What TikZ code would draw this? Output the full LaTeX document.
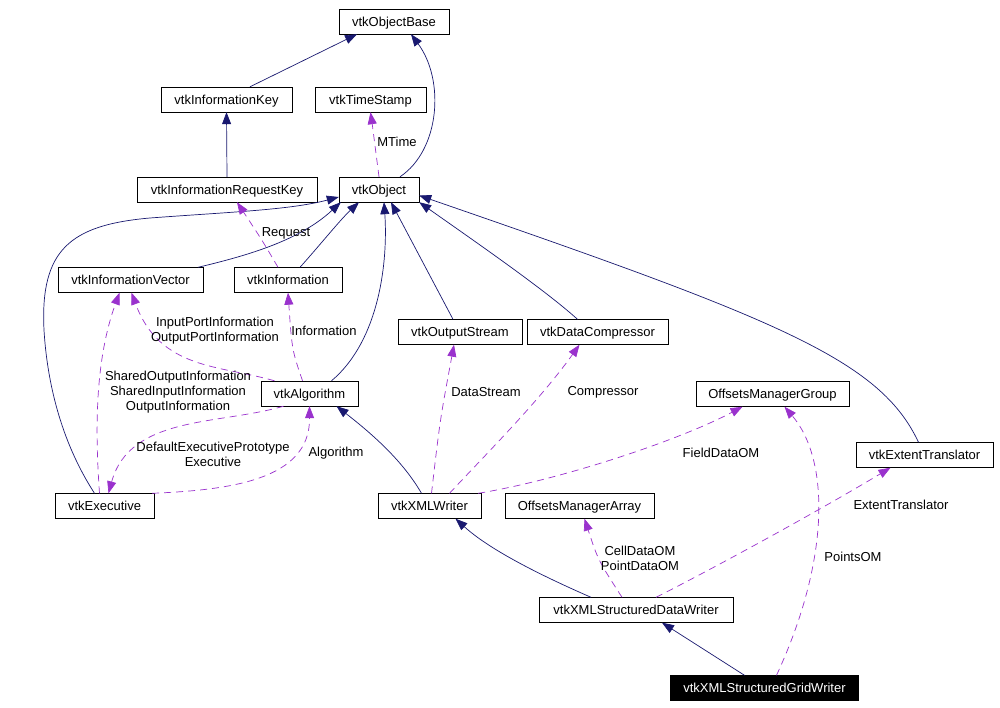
\documentclass[tikz,border=0pt]{standalone}
\usepackage{fontspec}
\setmainfont{Liberation Sans}
\usetikzlibrary{arrows.meta}
\definecolor{inhcol}{RGB}{25,25,112}
\definecolor{usecol}{RGB}{154,50,205}

\begin{document}
\begin{tikzpicture}[x=1pt,y=-1pt,
		cls/.style={draw,rectangle,minimum height=25,inner sep=1pt,text height=9.5pt,text depth=0pt,font=\fontsize{13}{15}\selectfont},
		inh/.style={draw=inhcol,line width=0.7pt,-{Triangle[length=12pt,width=9pt]}},
		use/.style={draw=usecol,line width=0.7pt,dash pattern=on 7pt off 5pt,-{Triangle[length=12pt,width=9pt]}},
		lbl/.style={align=center,inner sep=0pt,font=\fontsize{13}{15}\selectfont}]
	\useasboundingbox[fill=white] (0,0) rectangle (1000,708);
	% classes
	\node[cls,minimum width=110] (base) at (394,21.5) {vtkObjectBase};
	\node[cls,minimum width=131] (key) at (226.5,99.5) {vtkInformationKey};
	\node[cls,minimum width=111] (stamp) at (370.5,99.5) {vtkTimeStamp};
	\node[cls,minimum width=180] (reqkey) at (227,189.5) {vtkInformationRequestKey};
	\node[cls,minimum width=80] (obj) at (379,189.5) {vtkObject};
	\node[cls,minimum width=145] (infovec) at (130.5,280) {vtkInformationVector};
	\node[cls,minimum width=108] (info) at (288,280) {vtkInformation};
	\node[cls,minimum width=124] (ostream) at (460,332) {vtkOutputStream};
	\node[cls,minimum width=141] (compr) at (597.5,332) {vtkDataCompressor};
	\node[cls,minimum width=153] (omgroup) at (772.5,394) {OffsetsManagerGroup};
	\node[cls,minimum width=97] (alg) at (309.5,393.5) {vtkAlgorithm};
	\node[cls,minimum width=137] (extent) at (924.5,455) {vtkExtentTranslator};
	\node[cls,minimum width=99] (exec) at (104.5,506) {vtkExecutive};
	\node[cls,minimum width=103] (xmlw) at (429.5,506) {vtkXMLWriter};
	\node[cls,minimum width=149] (omarray) at (579.5,506) {OffsetsManagerArray};
	\node[cls,minimum width=194] (sdw) at (636,610) {vtkXMLStructuredDataWriter};
	\node[cls,minimum width=188,fill=black,text=white] (sgw) at (764.5,688) {vtkXMLStructuredGridWriter};
	% inheritance
	\foreach \a/\sa/\b/\sb in {key/23.5/base/-37, reqkey/0/key/0, ostream/-7/obj/12, sgw/-20/sdw/26}
	\draw[inh] ([xshift=\sa]\a.north) -- ([xshift=\sb]\b.south);
	\draw[inh] ([xshift=21]obj.north) .. controls (440,150) and (445,80) .. ([xshift=17]base.south);
	\draw[inh] ([xshift=-10]exec.north) .. controls (60,440) and (47,380) .. (44,330)
		.. controls (40,250) and (70,225) .. (150,218) .. controls (230,212) and (290,210) .. ([yshift=-7.5]obj.west);
	\draw[inh] ([xshift=67.5]infovec.north) .. controls (250,255) and (300,240) .. ([xshift=2]obj.south west);
	\draw[inh] ([xshift=12]info.north) .. controls (320,245) and (340,220) .. ([xshift=-20]obj.south);
	\draw[inh] ([xshift=22]alg.north) .. controls (380,340) and (388,260) .. ([xshift=5]obj.south);
	\draw[inh] ([xshift=-20]compr.north) .. controls (545,290) and (480,245) .. (obj.south east);
	\draw[inh] ([xshift=-6]extent.north) .. controls (880,360) and (780,320) .. ([yshift=-6]obj.east);
	\draw[inh] ([xshift=-8]xmlw.north) .. controls (405,465) and (380,440) .. ([xshift=27]alg.south);
	\draw[inh] ([xshift=-45]sdw.north) .. controls (540,575) and (490,550) .. ([xshift=26]xmlw.south);
	% usage
	\draw[use] (obj.north) .. controls (376,150) .. (stamp.south) node[lbl] at (397,142) {MTime};
	\draw[use] ([xshift=-10]info.north) .. controls (262,240) .. ([xshift=10]reqkey.south) node[lbl] at (286,233) {Request};
	\draw[use] ([xshift=-35]alg.north) .. controls (220,365) and (160,370) .. ([xshift=1]infovec.south)
		node[lbl] at (215,331) {InputPortInformation\\OutputPortInformation};
	\draw[use] ([xshift=-5]exec.north) .. controls (95,430) and (95,360) .. ([xshift=-11]infovec.south)
		node[lbl] at (178,392) {SharedOutputInformation\\SharedInputInformation\\OutputInformation};
	\draw[use] ([xshift=-7]alg.north) .. controls (292,350) .. (info.south) node[lbl] at (324,331) {Information};
	\draw[use] ([xshift=-26]alg.south) .. controls (220,425) and (130,415) .. ([xshift=4]exec.north)
		node[lbl] at (213,454) {DefaultExecutivePrototype\\Executive};
	\draw[use] ([xshift=-2]exec.north east) .. controls (230,490) and (310,480) .. (alg.south) node[lbl] at (336,453) {Algorithm};
	\draw[use] ([xshift=2]xmlw.north) .. controls (440,420) .. ([xshift=-6]ostream.south) node[lbl] at (486,392) {DataStream};
	\draw[use] ([xshift=20]xmlw.north) .. controls (490,450) and (540,400) .. ([xshift=-18]compr.south) node[lbl] at (603,392) {Compressor};
	\draw[use] ([xshift=-3]xmlw.north east) .. controls (560,480) and (680,440) .. ([xshift=-30]omgroup.south) node[lbl] at (721,453) {FieldDataOM};
	\draw[use] ([xshift=-14]sdw.north) .. controls (598,560) .. ([xshift=5]omarray.south) node[lbl] at (640,558) {CellDataOM\\PointDataOM};
	\draw[use] ([xshift=20]sdw.north) .. controls (720,565) and (820,510) .. ([xshift=-34]extent.south) node[lbl] at (901,505) {ExtentTranslator};
	\draw[use] ([xshift=12]sgw.north) .. controls (830,560) and (830,460) .. ([xshift=12]omgroup.south) node[lbl] at (853,557) {PointsOM};
\end{tikzpicture}
\end{document}
